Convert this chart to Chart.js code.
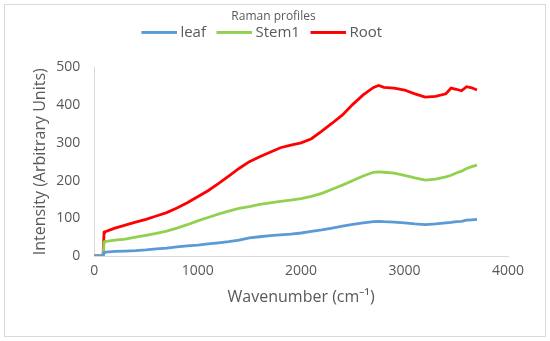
<!DOCTYPE html>
<html>
<head>
<meta charset="utf-8">
<script src="https://cdn.jsdelivr.net/npm/chart.js@4"></script>
<style>
  body { margin: 0; background: #fff; }
  #frame { position: absolute; left: 4px; top: 4px; width: 540px; height: 331px; border: 1px solid #d9d9d9; }
  #wrap { position: absolute; left: 0; top: 0; width: 550px; height: 341px; }
</style>
</head>
<body>
<div id="frame"></div>
<div id="wrap"><canvas id="myChart" width="550" height="341"></canvas></div>
<script>
// wavenumber (cm-1)
var wavenumber = [0, 50, 85, 95, 100, 200, 300, 400, 500, 600, 700, 800, 900, 1000, 1100, 1200, 1300, 1400, 1500, 1600, 1700, 1800, 1900, 2000, 2100, 2200, 2300, 2400, 2500, 2600, 2700, 2750, 2800, 2900, 3000, 3100, 3200, 3300, 3400, 3450, 3500, 3550, 3600, 3650, 3700]

var leaf = [0, 0, 0, 9, 10, 12, 13, 14, 16, 19, 21, 24, 27, 29, 32, 35, 38, 42, 48, 51, 54, 56, 58, 61, 65, 69, 74, 79, 84, 88, 91, 92, 91, 90, 88, 85, 83, 85, 88, 89, 91, 92, 95, 96, 97]
var stem1 = [0, 0, 0, 36, 38, 42, 45, 50, 55, 60, 66, 74, 83, 93, 102, 111, 119, 126, 131, 137, 141, 145, 148, 152, 158, 166, 177, 188, 200, 212, 222, 223, 222, 220, 214, 207, 201, 204, 210, 214, 220, 225, 232, 237, 241]
var root = [0, 0, 0, 62, 64, 74, 82, 90, 97, 106, 115, 127, 141, 157, 173, 192, 212, 232, 250, 263, 275, 287, 294, 300, 311, 331, 352, 374, 402, 427, 447, 452, 447, 445, 440, 430, 421, 423, 430, 445, 442, 438, 449, 446, 440]

var xTicks = [0, 1000, 2000, 3000, 4000]
var yTicks = [0, 100, 200, 300, 400, 500]

function toPoints (vals) {
  return vals.map((y, i) => ({ x: wavenumber[i], y: y }))
}

// legend swatch: a 36px line that sits close to its label
function swatch (color) {
  const c = document.createElement('canvas')
  c.width = 45
  c.height = 4
  const g = c.getContext('2d')
  g.fillStyle = color
  g.fillRect(9, 0, 36, 3)
  return c
}

const txt = '#595959'
const ctx = document.getElementById('myChart')

// extra gap under the legend, and legend sits a bit left of centre
const legendGap = {
  id: 'legendGap',
  beforeInit (chart) {
    const fit = chart.legend.fit
    chart.legend.fit = function () {
      fit.bind(chart.legend)()
      this.height += 17
    }
  },
  afterLayout (chart) {
    chart.legend.left -= 14
    chart.legend.right -= 14
  }
}

new Chart(ctx, {
  type: 'line',
  data: {
    datasets: [
      { label: 'leaf', data: toPoints(leaf), borderColor: '#5b9bd5', backgroundColor: '#5b9bd5', pointStyle: swatch('#5b9bd5') },
      { label: 'Stem1', data: toPoints(stem1), borderColor: '#92d050', backgroundColor: '#92d050', pointStyle: swatch('#92d050') },
      { label: 'Root', data: toPoints(root), borderColor: '#ff0000', backgroundColor: '#ff0000', pointStyle: swatch('#ff0000') }
    ]
  },
  options: {
    responsive: false,
    animation: false,
    elements: {
      line: { borderWidth: 2.8, tension: 0 },
      point: { radius: 0 }
    },
    layout: { padding: { left: 39, right: 42, top: 0, bottom: 34 } },
    plugins: {
      title: {
        display: true,
        text: 'Raman profiles',
        color: txt,
        font: { family: 'Open Sans', size: 12, weight: 'normal' },
        padding: { top: 9, bottom: -4 }
      },
      legend: {
        labels: {
          color: txt,
          font: { family: 'Open Sans', size: 15 },
          usePointStyle: true,
          pointStyleWidth: 36,
          boxHeight: 3,
          padding: 6
        }
      },
      tooltip: { enabled: false }
    },
    scales: {
      x: {
        type: 'linear',
        min: 0,
        max: 4000,
        afterBuildTicks: (s) => { s.ticks = xTicks.map(v => ({ value: v })) },
        grid: { display: false, drawTicks: false },
        border: { display: true, color: '#d9d9d9' },
        ticks: { color: txt, font: { family: 'Open Sans', size: 14 }, padding: 7, callback: (v) => String(v) },
        title: { display: true, text: 'Wavenumber (cm⁻¹)', color: txt, font: { family: 'Open Sans', size: 16 }, padding: { top: 1, bottom: 0 } }
      },
      y: {
        min: 0,
        max: 500,
        afterBuildTicks: (s) => { s.ticks = yTicks.map(v => ({ value: v })) },
        grid: { display: false, drawTicks: false },
        border: { display: true, color: '#d9d9d9' },
        ticks: { color: txt, font: { family: 'Open Sans', size: 14 }, padding: 14, callback: (v) => String(v) },
        title: { display: true, text: 'Intensity (Arbitrary Units)', color: txt, font: { family: 'Open Sans', size: 16 }, padding: -8 }
      }
    }
  },
  plugins: [legendGap]
})
</script>
</body>
</html>
